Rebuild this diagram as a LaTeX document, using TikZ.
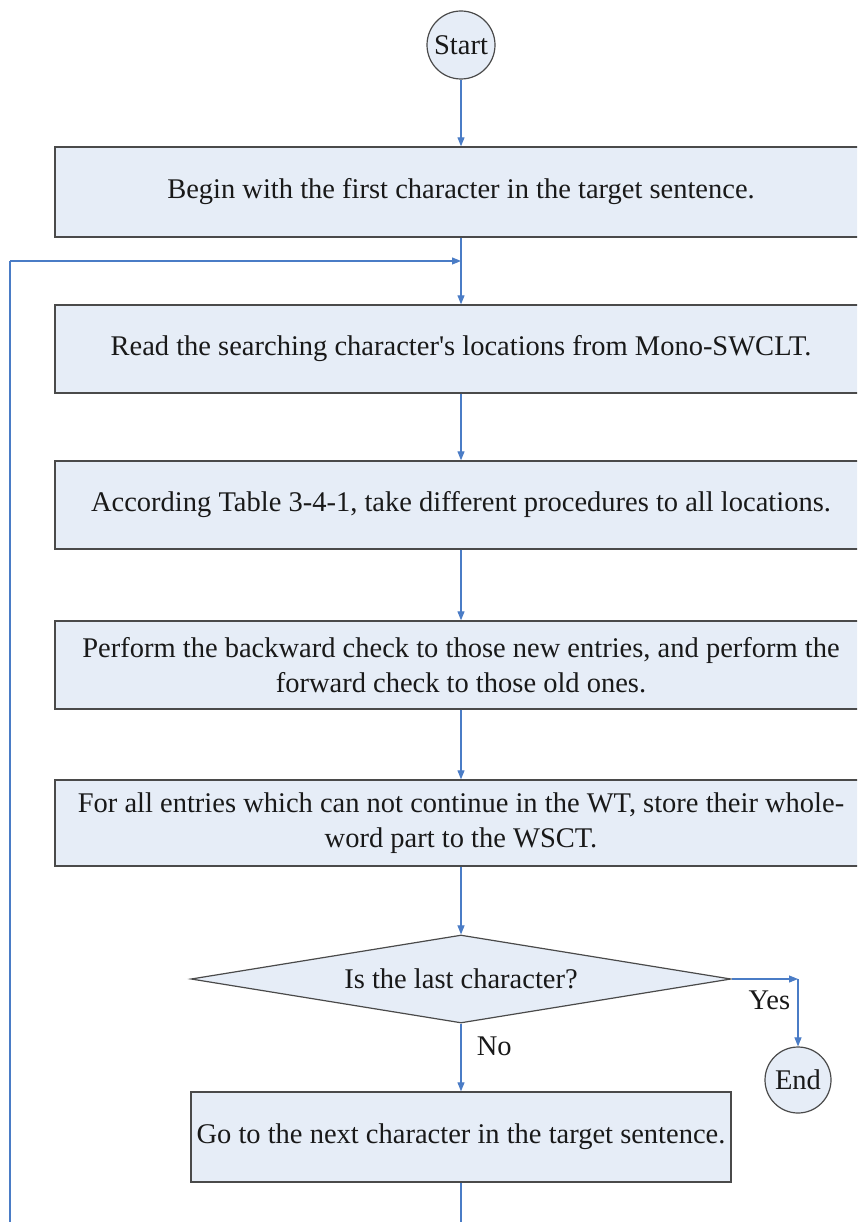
\documentclass[tikz,border=0pt]{standalone}
\usepackage{fontspec}
\setmainfont{Liberation Serif}
\usetikzlibrary{shapes.geometric,arrows.meta}
\definecolor{boxfill}{HTML}{E6EDF7}
\definecolor{boxline}{HTML}{4A4A4A}
\definecolor{flow}{HTML}{4A7CC6}
\begin{document}
\begin{tikzpicture}[x=1pt,y=-1pt,
  every node/.style={font=\fontsize{28.5}{35}\selectfont, text=black!90},
  procbox/.style={draw=boxline, fill=boxfill, line width=1.4pt, rectangle, inner sep=0pt, align=center},
  term/.style={draw=boxline, fill=boxfill, line width=1.2pt, circle, inner sep=0pt, minimum size=68pt},
  decision/.style={draw=boxline, fill=boxfill, line width=1.2pt, diamond, inner sep=0pt, aspect=6.14, minimum width=540pt, minimum height=88pt},
  conn/.style={draw=flow, line width=1.1pt},
  arr/.style={conn, -{Triangle[length=9pt,width=7pt]}}]
\useasboundingbox (0,0) rectangle (857,1222);
\clip (0,0) rectangle (857,1222);
\fill[white] (0,0) rectangle (857,1222);

% terminals
\node[term] (start) at (461,45) {Start};
\node[term, minimum size=66pt] (end) at (798,1080) {End};

% process steps (wide boxes run past the right edge)
\node[procbox, minimum width=812pt, minimum height=90pt] (b1) at (461,192)
  {Begin with the first character in the target sentence.};
\node[procbox, minimum width=812pt, minimum height=88pt] (b2) at (461,349)
  {Read the searching character\textquotesingle s locations from Mono-SWCLT.};
\node[procbox, minimum width=812pt, minimum height=88pt] (b3) at (461,505)
  {According Table 3-4-1, take different procedures to all locations.};
\node[procbox, minimum width=812pt, minimum height=88pt] (b4) at (461,665)
  {Perform the backward check to those new entries, and perform the\\forward check to those old ones.};
\node[procbox, minimum width=812pt, minimum height=86pt] (b5) at (461,823)
  {For all entries which can not continue in the WT, store their whole-\\word part to the WSCT.};
\node[decision] (dec) at (461,979) {Is the last character?};
\node[procbox, minimum width=540pt, minimum height=90pt] (b6) at (461,1137)
  {Go to the next character in the target sentence.};

% junction points
\coordinate (join) at (461,261);
\coordinate (loopbot) at (461,1240);
\coordinate (loopbl) at (10,1240);
\coordinate (looptl) at (10,261);
\coordinate (yescorner) at (798,979);

% connectors
\draw[arr] (start) -- (b1);
\draw[conn] (b1.south) -- (join);
\draw[arr] (join) -- (b2.north);
\draw[arr] (b2) -- (b3);
\draw[arr] (b3) -- (b4);
\draw[arr] (b4) -- (b5);
\draw[arr] (b5) -- (dec.north);
\draw[arr] (dec.south) -- node[pos=0.34, right=12pt] {No} (b6.north);
\draw[arr] (dec.east) -- (yescorner);
\draw[arr] (yescorner) -- node[pos=0.32, left=4pt] {Yes} (end.north);
\draw[conn] (b6.south) -- (loopbot) -- (loopbl) -- (looptl);
\draw[arr] (looptl) -- (join);
\end{tikzpicture}
\end{document}
